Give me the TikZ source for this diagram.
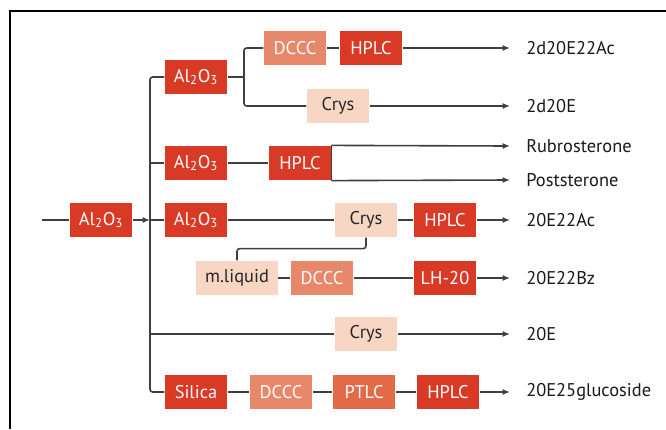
\documentclass[tikz,border=0pt]{standalone}
\usepackage{fontspec}
\setmainfont{PT Sans}
\usepackage{tikz}
\usetikzlibrary{arrows.meta,positioning}

\definecolor{redbox}{HTML}{D93A26}
\definecolor{salmonbox}{HTML}{E8886A}
\definecolor{orangebox}{HTML}{E26A48}
\definecolor{palebox}{HTML}{F8D6C4}
\definecolor{wire}{HTML}{3F3F3F}

\begin{document}
\begin{tikzpicture}[
    x=0.75pt, y=-0.75pt,
    font=\fontsize{13.8}{16}\selectfont,
    box/.style={rectangle, minimum width=47pt, minimum height=26pt, inner sep=2pt, text centered},
    heavy/.style={box, fill=redbox, text=white},
    medium/.style={box, fill=salmonbox, text=white},
    ptlcbox/.style={box, fill=orangebox, text=white},
    light/.style={box, fill=palebox, text=black!85},
    product/.style={anchor=west, inner xsep=12pt, inner ysep=0pt, text=black!90},
    line/.style={draw=wire, line width=1.2pt},
    arrow/.style={line, -{Latex[length=5.5pt, width=4.5pt]}},
  ]
    \useasboundingbox (0,0) rectangle (666,429);
    \draw[line width=1.5pt] (10,429) |- (666,11);

    % first column
    \node[heavy] (alMain) at (101,220) {Al\textsubscript{2}O\textsubscript{3}};
    \coordinate (feed) at (42,220);
    \coordinate (tBot) at (150,392);

    \node[heavy] (alA) at (196,77) {Al\textsubscript{2}O\textsubscript{3}};
    \node[heavy] (alB) at (196,163) {Al\textsubscript{2}O\textsubscript{3}};
    \node[heavy] (alC) at (196,220) {Al\textsubscript{2}O\textsubscript{3}};
    \node[heavy] (silica) at (196,392) {Silica};

    % branch 1
    \coordinate (split) at (244,77);
    \node[medium] (dcccA) at (295,48) {DCCC};
    \node[heavy] (hplcA) at (371,48) {HPLC};
    \node[light] (crysA) at (338,106) {Crys};

    % branch 2
    \node[heavy] (hplcB) at (300,163) {HPLC};

    % branch 3
    \node[light] (crysB) at (366,220) {Crys};
    \node[heavy] (hplcC) at (445,220) {HPLC};
    \node[light, minimum width=61pt] (mliq) at (237,278) {m.liquid};
    \node[medium] (dcccB) at (322,278) {DCCC};
    \node[heavy] (lh) at (445,278) {LH-20};

    % branch 4
    \node[light] (crysC) at (366,334) {Crys};

    % branch 5
    \node[medium] (dcccC) at (281,392) {DCCC};
    \node[ptlcbox] (ptlc) at (364,392) {PTLC};
    \node[heavy] (hplcD) at (448,392) {HPLC};

    % products
    \node[product] (pA) at (510,48) {2d20E22Ac};
    \node[product] (pB) at (510,106) {2d20E};
    \node[product] (pC) at (510,146) {Rubrosterone};
    \node[product] (pD) at (510,180) {Poststerone};
    \node[product] (pE) at (510,220) {20E22Ac};
    \node[product] (pF) at (510,278) {20E22Bz};
    \node[product] (pG) at (510,334) {20E};
    \node[product] (pH) at (510,392) {20E25glucoside};

    % connectors
    \draw[line] (feed) -- (alMain);
    \draw[arrow] (alMain) -- (alMain -| tBot);
    \draw[line, rounded corners=2pt] (alA.west) -| (tBot) -- (silica.west);
    \draw[line] (alB.west -| tBot) -- (alB.west);
    \draw[line] (alC.west -| tBot) -- (alC.west);
    \draw[line] (crysC.west -| tBot) -- (crysC.west);

    \draw[line] (alA) -- (split);
    \draw[line, rounded corners=2pt] (dcccA.west) -| (split) |- (crysA.west);
    \draw[line] (dcccA) -- (hplcA);
    \draw[arrow] (hplcA) -- (pA.west);
    \draw[arrow] (crysA) -- (pB.west);

    \draw[line] (alB) -- (hplcB);
    \draw[line] (hplcB.north east) -- (hplcB.south east);
    \draw[arrow] (hplcB.north east) -- (pC.west);
    \draw[arrow] (hplcB.south east) -- (pD.west);

    \draw[line] (alC) -- (crysB);
    \draw[line] (crysB) -- (hplcC);
    \draw[arrow] (hplcC) -- (pE.west);
    \draw[line, rounded corners=2pt] (crysB.south) -- ++(0,11) -| (mliq.north);
    \draw[line] (mliq) -- (dcccB);
    \draw[line] (dcccB) -- (lh);
    \draw[arrow] (lh) -- (pF.west);

    \draw[arrow] (crysC) -- (pG.west);

    \draw[line] (silica) -- (dcccC);
    \draw[line] (dcccC) -- (ptlc);
    \draw[line] (ptlc) -- (hplcD);
    \draw[arrow] (hplcD) -- (pH.west);
  \end{tikzpicture}
\end{document}
